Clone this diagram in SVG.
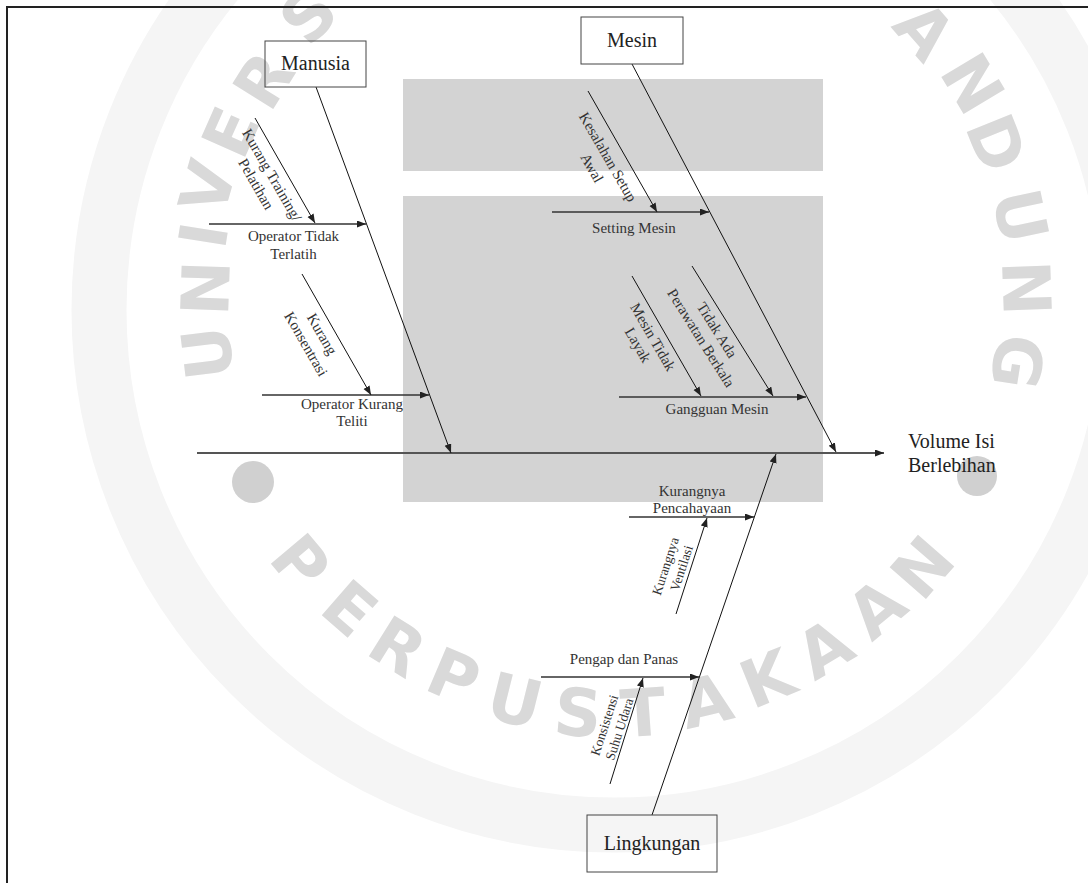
<svg xmlns="http://www.w3.org/2000/svg" width="1088" height="883" viewBox="0 0 1088 883">
<style>
.wm{font-family:"DejaVu Sans","Liberation Sans",sans-serif;font-weight:bold;font-size:66px;fill:#d9d9d9;text-anchor:middle}
.box{fill:none;stroke:#444;stroke-width:1}
.t{font-family:"Liberation Serif","Times New Roman",serif;fill:#333;text-anchor:middle}
.n{font-size:20px;fill:#222}
.b{font-size:15px}
.s{font-size:15px}
.s2{font-size:13.5px}
.diag{stroke:#111;stroke-width:1;fill:none;marker-end:url(#ah)}
.hor{stroke:#333;stroke-width:1.5;fill:none;marker-end:url(#ah)}
.main{stroke:#555;stroke-width:2;fill:none;marker-end:url(#ah)}
</style>
<defs>
<marker id="ah" markerUnits="userSpaceOnUse" markerWidth="10" markerHeight="8" refX="9" refY="3.5" orient="auto">
<path d="M0,0 L9,3.5 L0,7 z" fill="#222"/>
</marker>
</defs>
<rect x="0" y="0" width="1088" height="883" fill="#fff"/>
<g id="watermark">
<circle cx="614" cy="310" r="515" fill="none" stroke="#f5f5f5" stroke-width="55"/>
<rect x="403" y="79" width="420" height="92" fill="#d3d3d3"/>
<rect x="403" y="196" width="420" height="306" fill="#d3d3d3"/>
<circle cx="253" cy="482" r="21" fill="#d0d0d0"/>
<circle cx="977" cy="476" r="20" fill="#d0d0d0"/>
<text class="wm" transform="translate(207,353) rotate(-97)" y="24">U</text>
<text class="wm" transform="translate(205,288) rotate(-88)" y="24">N</text>
<text class="wm" transform="translate(203,235) rotate(-81)" y="24">I</text>
<text class="wm" transform="translate(207,187) rotate(-74)" y="24">V</text>
<text class="wm" transform="translate(230,132) rotate(-66)" y="24">E</text>
<text class="wm" transform="translate(263,80) rotate(-58)" y="24">R</text>
<text class="wm" transform="translate(308,15) rotate(-47)" y="24">S</text>
<text class="wm" transform="translate(925,30) rotate(49)" y="24">A</text>
<text class="wm" transform="translate(973,83) rotate(59)" y="24">N</text>
<text class="wm" transform="translate(997,143) rotate(68)" y="24">D</text>
<text class="wm" transform="translate(1021,216) rotate(78)" y="24">U</text>
<text class="wm" transform="translate(1027,288) rotate(88)" y="24">N</text>
<text class="wm" transform="translate(1018,362) rotate(99)" y="24">G</text>
<text class="wm" transform="translate(301,562) rotate(50)" y="24">P</text>
<text class="wm" transform="translate(350,608) rotate(41)" y="24">E</text>
<text class="wm" transform="translate(398,646) rotate(32)" y="24">R</text>
<text class="wm" transform="translate(454,676) rotate(23)" y="24">P</text>
<text class="wm" transform="translate(515,700) rotate(14)" y="24">U</text>
<text class="wm" transform="translate(578,712) rotate(5)" y="24">S</text>
<text class="wm" transform="translate(643,712) rotate(-4)" y="24">T</text>
<text class="wm" transform="translate(706,700) rotate(-13)" y="24">A</text>
<text class="wm" transform="translate(767,678) rotate(-22)" y="24">K</text>
<text class="wm" transform="translate(824,648) rotate(-31)" y="24">A</text>
<text class="wm" transform="translate(876,608) rotate(-40)" y="24">A</text>
<text class="wm" transform="translate(922,567) rotate(-49)" y="24">N</text>
</g>
<g id="frame" stroke="#222" stroke-width="2" fill="none">
<path d="M6,7 H1088 M7,6 V883"/>
</g>
<g id="connectors">
<line class="main" x1="197" y1="453" x2="884" y2="453"/>
<line class="diag" x1="316" y1="87" x2="451" y2="453"/>
<line class="diag" x1="632" y1="64" x2="836" y2="452"/>
<line class="diag" x1="652" y1="815" x2="776" y2="454"/>
<line class="hor" x1="209" y1="224" x2="366" y2="224"/>
<line class="diag" x1="255" y1="118" x2="315" y2="223"/>
<line class="hor" x1="262" y1="395" x2="429" y2="395"/>
<line class="diag" x1="302" y1="274" x2="371" y2="395"/>
<line class="hor" x1="552" y1="212" x2="709" y2="212"/>
<line class="diag" x1="588" y1="91" x2="657" y2="212"/>
<line class="hor" x1="619" y1="397" x2="806" y2="397"/>
<line class="diag" x1="632" y1="276" x2="701" y2="396"/>
<line class="diag" x1="692" y1="266" x2="773" y2="396"/>
<line class="hor" x1="629" y1="517" x2="754" y2="517"/>
<line class="diag" x1="676" y1="614" x2="707" y2="518"/>
<line class="hor" x1="541" y1="677" x2="699" y2="677"/>
<line class="diag" x1="610" y1="784" x2="643" y2="678"/>
</g>
<g id="node-manusia">
<rect class="box" x="265" y="41" width="101" height="46"/>
<text class="t n" x="315.5" y="70">Manusia</text>
</g>
<g id="node-mesin">
<rect class="box" x="581" y="17" width="102" height="47"/>
<text class="t n" x="632" y="47">Mesin</text>
</g>
<g id="node-lingkungan">
<rect class="box" x="587" y="815" width="130" height="57"/>
<text class="t n" x="652" y="850">Lingkungan</text>
</g>
<g id="node-effect">
<text class="t n" x="908" y="448" style="text-anchor:start">Volume Isi</text>
<text class="t n" x="908" y="472" style="text-anchor:start">Berlebihan</text>
</g>
<g id="cause-operator-tidak-terlatih">
<text class="t b" x="293.5" y="241">Operator Tidak</text>
<text class="t b" x="293.5" y="259">Terlatih</text>
</g>
<g id="cause-kurang-training">
<text class="t s" transform="translate(272,175) rotate(60)" y="5">Kurang Training/</text>
<text class="t s" transform="translate(256,184) rotate(60)" y="5">Pelatihan</text>
</g>
<g id="cause-operator-kurang-teliti">
<text class="t b" x="352" y="409">Operator Kurang</text>
<text class="t b" x="352" y="426">Teliti</text>
</g>
<g id="cause-kurang-konsentrasi">
<text class="t s" transform="translate(322,334) rotate(60)" y="5">Kurang</text>
<text class="t s" transform="translate(306,344) rotate(60)" y="5">Konsentrasi</text>
</g>
<g id="cause-setting-mesin">
<text class="t b" x="634" y="233">Setting Mesin</text>
</g>
<g id="cause-kesalahan-setup">
<text class="t s" transform="translate(608,157) rotate(60)" y="5">Kesalahan Setup</text>
<text class="t s" transform="translate(592,168) rotate(60)" y="5">Awal</text>
</g>
<g id="cause-gangguan-mesin">
<text class="t b" x="717" y="414">Gangguan Mesin</text>
</g>
<g id="cause-mesin-tidak-layak">
<text class="t s" transform="translate(653,337) rotate(60)" y="5">Mesin Tidak</text>
<text class="t s" transform="translate(638,345) rotate(60)" y="5">Layak</text>
</g>
<g id="cause-tidak-ada-perawatan">
<text class="t s" transform="translate(717,330) rotate(58)" y="5">Tidak Ada</text>
<text class="t s" transform="translate(701,338) rotate(58)" y="5">Perawatan Berkala</text>
</g>
<g id="cause-kurangnya-pencahayaan">
<text class="t b" x="692" y="496">Kurangnya</text>
<text class="t b" x="692" y="513">Pencahayaan</text>
</g>
<g id="cause-kurangnya-ventilasi">
<text class="t s2" transform="translate(665,566) rotate(-72)" y="5">Kurangnya</text>
<text class="t s2" transform="translate(681,568) rotate(-72)" y="5">Ventilasi</text>
</g>
<g id="cause-pengap-dan-panas">
<text class="t b" x="624" y="664">Pengap dan Panas</text>
</g>
<g id="cause-konsistensi-suhu">
<text class="t s2" transform="translate(604,725) rotate(-72)" y="5">Konsistensi</text>
<text class="t s2" transform="translate(619,729) rotate(-72)" y="5">Suhu Udara</text>
</g>
</svg>
